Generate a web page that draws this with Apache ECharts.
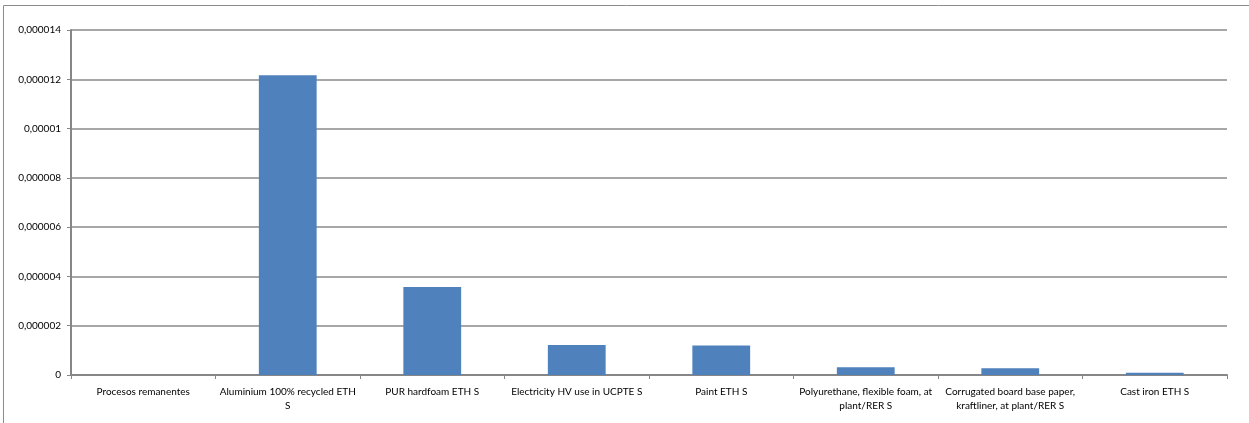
<!DOCTYPE html>
<html>
<head>
<meta charset="utf-8">
<script src="https://cdn.jsdelivr.net/npm/echarts@6/dist/echarts.min.js"></script>
<style>
  html, body { margin: 0; padding: 0; background: #fff; }
  #chart { width: 1249px; height: 423px; }
</style>
</head>
<body>
<div id="chart"></div>
<script>
// Process contributions (impact per process)
const categories = [
  'Procesos remanentes',
  'Aluminium 100% recycled ETH\nS',
  'PUR hardfoam ETH S',
  'Electricity HV use in UCPTE S',
  'Paint ETH S',
  'Polyurethane, flexible foam, at\nplant/RER S',
  'Corrugated board base paper,\nkraftliner, at plant/RER S',
  'Cast iron ETH S'
];
const values = [0, 0.00001216, 0.00000357, 0.00000122, 0.0000012, 0.00000031, 0.00000027, 0.00000009];
const yMax = 0.000014;
const yStep = 0.000002;

// Decimal comma, no trailing zeros
function fmt(v) {
  if (v === 0) return '0';
  let s = v.toFixed(6).replace(/0+$/, '').replace(/\.$/, '');
  return s.replace('.', ',');
}

const font = 'Lato, "Open Sans", sans-serif';
const chart = echarts.init(document.getElementById('chart'));
chart.setOption({
  animation: false,
  backgroundColor: '#fff',
  graphic: [{
    type: 'rect',
    shape: { x: 3.5, y: 5.5, width: 1260, height: 430 },
    style: { fill: 'none', stroke: '#8c8c8c', lineWidth: 1 },
    silent: true
  }],
  grid: { left: 71, right: 22, top: 30, bottom: 48 },
  xAxis: {
    type: 'category',
    data: categories,
    axisLine: { lineStyle: { color: '#868686', width: 2 } },
    axisTick: { show: true, alignWithLabel: false, length: 4, lineStyle: { color: '#868686' } },
    axisLabel: {
      interval: 0,
      margin: 10,
      color: '#000',
      fontFamily: font,
      fontSize: 10,
      lineHeight: 14
    }
  },
  yAxis: {
    type: 'value',
    min: 0,
    max: yMax,
    interval: yStep,
    axisLine: { show: true, lineStyle: { color: '#868686', width: 2 } },
    axisTick: { show: true, length: 4, lineStyle: { color: '#868686' } },
    splitLine: { lineStyle: { color: '#8a8a8a', width: 1.5 } },
    axisLabel: {
      formatter: fmt,
      color: '#000',
      fontFamily: font,
      fontSize: 10,
      margin: 10
    }
  },
  series: [{
    type: 'bar',
    data: values,
    barWidth: '40%',
    itemStyle: { color: '#4F81BD' }
  }]
});
</script>
</body>
</html>
